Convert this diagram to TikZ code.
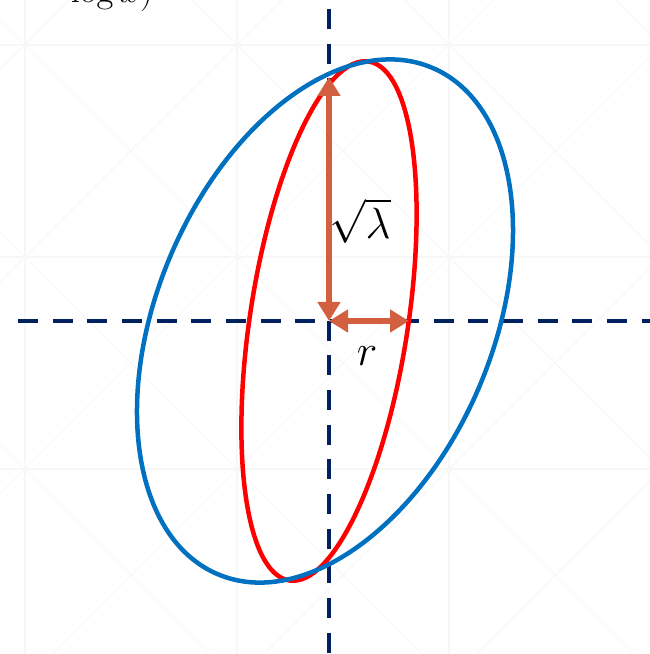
\documentclass[tikz,border=0pt]{standalone}
\usetikzlibrary{arrows.meta}
\definecolor{axisnavy}{RGB}{0,32,96}
\definecolor{wideblue}{RGB}{0,112,192}
\definecolor{measurered}{RGB}{210,96,64}
\begin{document}
\begin{tikzpicture}[
  faint/.style={black!3, line width=0.6pt},
  axisline/.style={axisnavy, line width=0.08cm, dash pattern=on 0.4cm off 0.293cm},
  ellline/.style={line width=0.09cm},
  measure/.style={measurered, line width=0.12cm,
    {Triangle[width=0.44cm,length=0.38cm]}-{Triangle[width=0.44cm,length=0.38cm]}},
  bigmath/.style={font=\fontsize{25}{30}\selectfont}]
  \useasboundingbox (-6.58,-6.66) rectangle (6.42,6.42);
  \clip (-6.58,-6.66) rectangle (6.42,6.42);
  % faint background grid
  \foreach \k in {0,...,3} {
    \draw[faint] (-6.08+4.24*\k,-7) -- (-6.08+4.24*\k,7);
    \draw[faint] (-7,5.52-4.24*\k) -- (7,5.52-4.24*\k);
  }
  \foreach \k in {-1,...,6}
    \draw[faint] (-8,-8+11.6-4.24*\k) -- (8,8+11.6-4.24*\k);
  \foreach \k in {-3,...,3}
    \draw[faint] (-8,8-0.56+4.24*\k) -- (8,-8-0.56+4.24*\k);
  \node[anchor=base, font=\fontsize{21}{25}\selectfont] (toptext) at (-4.34,6.36) {$\log x)$};
  % axes
  \coordinate (O) at (0,0);
  \coordinate (left) at (-6.22,0);
  \coordinate (right) at (6.42,0);
  \coordinate (top) at (0,6.24);
  \coordinate (bottom) at (0,-6.66);
  \draw[axisline] (left) -- (right);
  \draw[axisline] (top) -- (bottom);
  % ellipses
  \draw[ellline, red] (O) ellipse [x radius=5.25, y radius=1.58, rotate=81.3];
  \draw[ellline, wideblue] (-0.08,0) ellipse [x radius=5.5, y radius=3.354, rotate=67.05];
  % lengths
  \coordinate (lamtop) at (0,4.88);
  \coordinate (rend) at (1.6,0);
  \draw[measure] (O) -- (lamtop);
  \draw[measure] (O) -- (rend);
  \node[bigmath] (lamlabel) at (0.62,2.0) {$\sqrt{\lambda}$};
  \node[bigmath] (rlabel) at (0.76,-0.7) {$r$};
\end{tikzpicture}
\end{document}
